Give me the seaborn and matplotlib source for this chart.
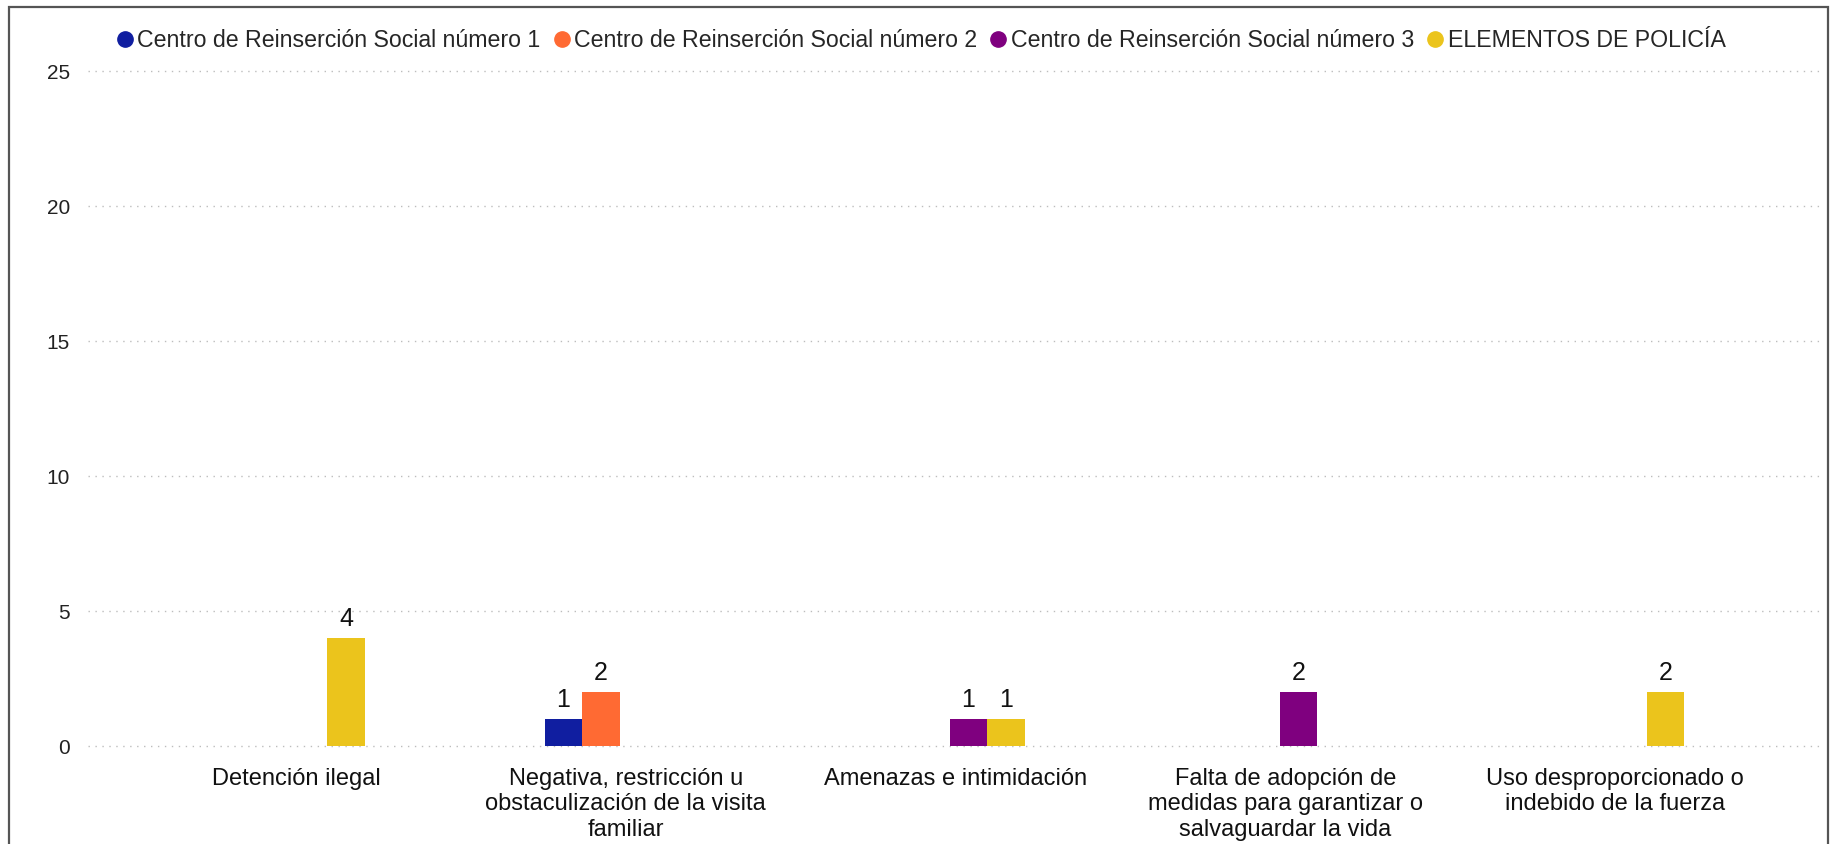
import matplotlib
matplotlib.use('Agg')
import matplotlib.pyplot as plt
import matplotlib.transforms as mtransforms
from matplotlib.lines import Line2D
from matplotlib.patches import Rectangle
import seaborn as sns
import pandas as pd

# Datos del gráfico
categorias = [
    'Detención ilegal',
    'Negativa, restricción u\nobstaculización de la visita\nfamiliar',
    'Amenazas e intimidación',
    'Falta de adopción de\nmedidas para garantizar o\nsalvaguardar la vida',
    'Uso desproporcionado o\nindebido de la fuerza',
]
series = [
    'Centro de Reinserción Social número 1',
    'Centro de Reinserción Social número 2',
    'Centro de Reinserción Social número 3',
    'ELEMENTOS DE POLICÍA',
]
valores_crs1 = [0, 1, 0, 0, 0]
valores_crs2 = [0, 2, 0, 0, 0]
valores_crs3 = [0, 0, 1, 2, 0]
valores_policia = [4, 0, 1, 0, 2]
ticks_y = [0, 5, 10, 15, 20, 25]
colores = ['#101EA0', '#FF6A33', '#7F007F', '#EBC41C']

valores = [valores_crs1, valores_crs2, valores_crs3, valores_policia]
filas = []
for serie, vals in zip(series, valores):
    for cat, v in zip(categorias, vals):
        filas.append({'categoria': cat, 'serie': serie, 'valor': v})
df = pd.DataFrame(filas)

sns.set_theme(style='white')
plt.rcParams['font.family'] = ['Liberation Sans', 'DejaVu Sans']

fig = plt.figure(figsize=(18.39, 8.44), dpi=100)
ax = fig.add_axes([0.0479, 0.1065, 0.944, 0.8184])

sns.barplot(
    data=df, x='categoria', y='valor', hue='serie',
    order=categorias, hue_order=series, palette=colores, saturation=1,
    width=0.455, errorbar=None, linewidth=0, legend=False, ax=ax
)

# Etiquetas de valor (solo barras con valor)
for cont in ax.containers:
    etiquetas = [f'{int(v)}' if v > 0 else '' for v in cont.datavalues]
    ax.bar_label(cont, labels=etiquetas, padding=5, fontsize=18, color='#111111')

ax.set_xlim(-0.612, 4.651)
ax.set_ylim(-0.3, 25.3)
ax.set_yticks(ticks_y)
ax.set_xlabel('')
ax.set_ylabel('')
ax.tick_params(axis='y', length=0, pad=13, labelsize=15, labelcolor='#222222')
ax.tick_params(axis='x', length=0, pad=10, labelsize=17, labelcolor='#111111')
desplazamiento = mtransforms.ScaledTranslation(6 / 100, 0, fig.dpi_scale_trans)
for lab in ax.get_xticklabels():
    lab.set_linespacing(1.2)
    lab.set_verticalalignment('top')
    lab.set_transform(lab.get_transform() + desplazamiento)

ax.yaxis.grid(True, linestyle=(0, (1, 4)), color='#BDBDBD', linewidth=1)
ax.xaxis.grid(False)
for s in ax.spines.values():
    s.set_visible(False)

# Leyenda con marcadores circulares
handles = [Line2D([0], [0], marker='o', linestyle='', markersize=11,
                  markerfacecolor=c, markeredgecolor=c) for c in colores]
fig.legend(handles, series, loc='upper center', bbox_to_anchor=(0.5, 0.99),
           ncol=4, frameon=False, fontsize=16.7, handletextpad=0.05,
           columnspacing=0.4, handlelength=1.0)

# Marco alrededor de la figura
fig.patches.append(Rectangle((9 / 1839, -0.05), 1 - 20 / 1839, 1.05 - 7 / 844,
                             transform=fig.transFigure, fill=False,
                             edgecolor='#555555', linewidth=1.6))

fig.savefig('out.png', dpi=100)
plt.close(fig)
